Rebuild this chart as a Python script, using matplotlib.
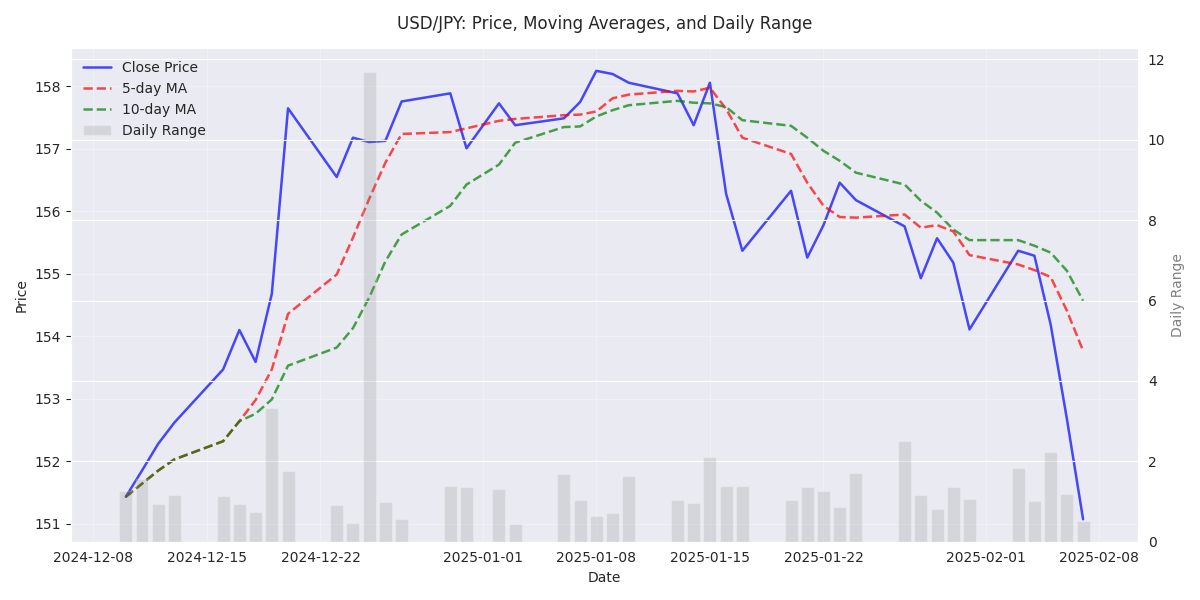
import pandas as pd
import matplotlib
matplotlib.use("Agg")
import matplotlib.pyplot as plt
import seaborn as sns

# Trading days shown in the chart
dates = pd.to_datetime([
    "2024-12-10", "2024-12-11", "2024-12-12", "2024-12-13",
    "2024-12-16", "2024-12-17", "2024-12-18", "2024-12-19", "2024-12-20",
    "2024-12-23", "2024-12-24", "2024-12-25", "2024-12-26", "2024-12-27",
    "2024-12-30", "2024-12-31", "2025-01-02", "2025-01-03",
    "2025-01-06", "2025-01-07", "2025-01-08", "2025-01-09", "2025-01-10",
    "2025-01-13", "2025-01-14", "2025-01-15", "2025-01-16", "2025-01-17",
    "2025-01-20", "2025-01-21", "2025-01-22", "2025-01-23", "2025-01-24",
    "2025-01-27", "2025-01-28", "2025-01-29", "2025-01-30", "2025-01-31",
    "2025-02-03", "2025-02-04", "2025-02-05", "2025-02-06", "2025-02-07",
])

close = [
    151.43, 151.85, 152.28, 152.62, 153.47, 154.10, 153.59, 154.68, 157.65,
    156.55, 157.18, 157.11, 157.13, 157.76, 157.89, 157.01, 157.73, 157.38,
    157.49, 157.75, 158.25, 158.20, 158.06, 157.89, 157.38, 158.06, 156.28,
    155.37, 156.33, 155.26, 155.78, 156.46, 156.18, 155.76, 154.93, 155.57,
    155.18, 154.11, 155.37, 155.29, 154.19, 152.68, 151.07,
]

ma5 = [
    151.43, 151.64, 151.85, 152.03, 152.32, 152.64, 152.98, 153.47, 154.36,
    154.99, 155.58, 156.20, 156.78, 157.24, 157.27, 157.33, 157.45, 157.48,
    157.54, 157.55, 157.60, 157.81, 157.87, 157.93, 157.92, 157.98, 157.64,
    157.18, 156.92, 156.46, 156.09, 155.91, 155.90, 155.95, 155.74, 155.78,
    155.68, 155.30, 155.15, 155.06, 154.95, 154.41, 153.77,
]

ma10 = [
    151.43, 151.64, 151.85, 152.03, 152.32, 152.64, 152.76, 152.99, 153.53,
    153.82, 154.13, 154.62, 155.20, 155.63, 156.09, 156.43, 156.75, 157.10,
    157.35, 157.36, 157.52, 157.62, 157.70, 157.77, 157.74, 157.73, 157.67,
    157.46, 157.37, 157.18, 156.97, 156.81, 156.62, 156.43, 156.17, 155.98,
    155.71, 155.54, 155.54, 155.45, 155.34, 155.05, 154.57,
]

daily_range = [
    1.26, 1.56, 0.94, 1.16, 1.14, 0.94, 0.74, 3.33, 1.76,
    0.91, 0.47, 11.69, 0.99, 0.57, 1.39, 1.36, 1.31, 0.44,
    1.69, 1.04, 0.64, 0.72, 1.64, 1.04, 0.96, 2.11, 1.39,
    1.39, 1.04, 1.36, 1.26, 0.86, 1.71, 2.51, 1.16, 0.82,
    1.36, 1.06, 1.84, 1.01, 2.24, 1.19, 0.52,
]

sns.set_style("darkgrid")
plt.rcParams["font.family"] = ["DejaVu Sans"]

fig, ax = plt.subplots(figsize=(12, 6))

# Price and moving averages
ax.plot(dates, close, color="blue", alpha=0.7, linewidth=1.8, label="Close Price")
ax.plot(dates, ma5, color="red", linestyle="--", alpha=0.7, linewidth=1.8, label="5-day MA")
ax.plot(dates, ma10, color="green", linestyle="--", alpha=0.7, linewidth=1.8, label="10-day MA")
ax.set_xlabel("Date")
ax.set_ylabel("Price")
ax.grid(True, alpha=0.3)

# Daily range on secondary axis
ax2 = ax.twinx()
ax2.bar(dates, daily_range, color="gray", alpha=0.2, label="Daily Range")
ax2.set_ylabel("Daily Range", color="gray")
ax2.tick_params(axis="y", right=False)

# Combined legend
h1, l1 = ax.get_legend_handles_labels()
h2, l2 = ax2.get_legend_handles_labels()
ax.legend(h1 + h2, l1 + l2, loc="upper left", frameon=False)

ax.set_title("USD/JPY: Price, Moving Averages, and Daily Range", pad=14)
plt.tight_layout()
plt.savefig("out.png", dpi=100)
plt.close()
